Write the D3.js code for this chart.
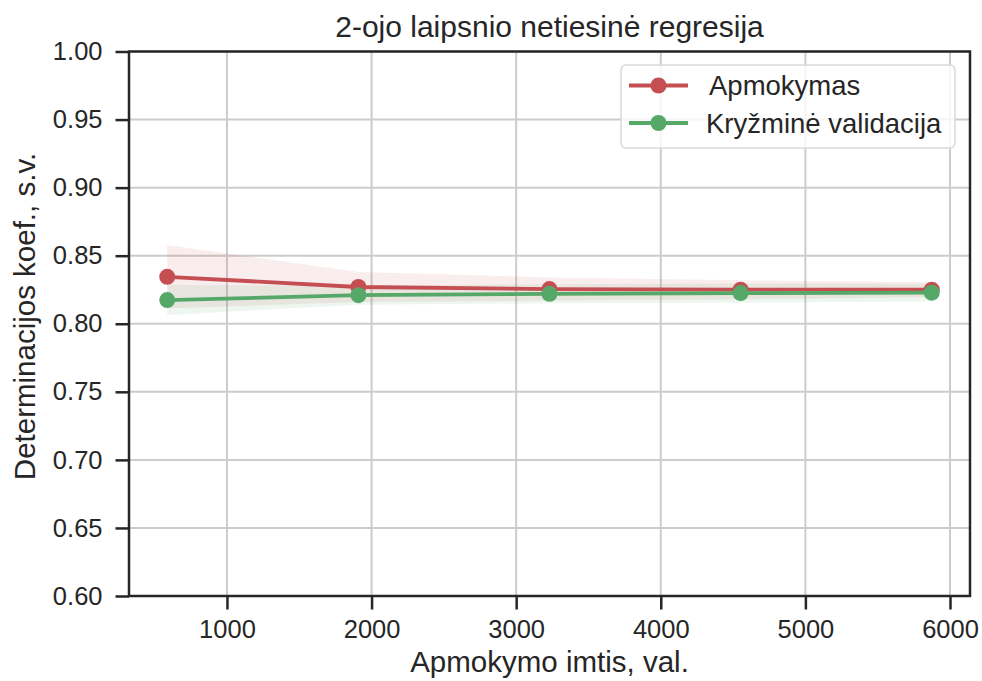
<!DOCTYPE html>
<html>
<head>
<meta charset="utf-8">
<script src="https://cdn.jsdelivr.net/npm/d3@7/dist/d3.min.js"></script>
<style>
  html, body { margin: 0; padding: 0; background: #ffffff; }
  svg { display: block; font-family: "Liberation Sans", Arial, sans-serif; }
</style>
</head>
<body>
<svg id="chart" width="982" height="681"></svg>
<script>
// Learning curve of the 2nd degree polynomial regression
const trainSizes = [587, 1909, 3230, 4552, 5874];
const trainMean = [0.8345, 0.8270, 0.8255, 0.8250, 0.8250];
const trainStd  = [0.0233, 0.0110, 0.0085, 0.0070, 0.0055];
const cvMean    = [0.8174, 0.8210, 0.8220, 0.8225, 0.8228];
const cvStd     = [0.0110, 0.0070, 0.0070, 0.0070, 0.0065];
const yTicks = [0.60, 0.65, 0.70, 0.75, 0.80, 0.85, 0.90, 0.95, 1.00];
const xTicks = [1000, 2000, 3000, 4000, 5000, 6000];
const seriesNames = ["Apmokymas", "Kryžminė validacija"];
const seriesColors = ["#c44e52", "#55a868"];
const titleText = "2-ojo laipsnio netiesinė regresija";
const xLabel = "Apmokymo imtis, val.";
const yLabel = "Determinacijos koef., s.v.";

const svg = d3.select("#chart");
const margin = { left: 129, right: 12, top: 51.5, bottom: 85 };
const W = 982, H = 681;
const iw = W - margin.left - margin.right;
const ih = H - margin.top - margin.bottom;
const textColor = "#262626";

// x range padded by 5% on each side of the data
const span = d3.max(trainSizes) - d3.min(trainSizes);
const x = d3.scaleLinear()
  .domain([d3.min(trainSizes) - 0.05 * span, d3.max(trainSizes) + 0.05 * span])
  .range([margin.left, margin.left + iw]);
const y = d3.scaleLinear().domain([0.6, 1.0]).range([margin.top + ih, margin.top]);

// grid
const grid = svg.append("g");
grid.selectAll("line.gx").data(xTicks).join("line")
  .attr("x1", d => x(d)).attr("x2", d => x(d))
  .attr("y1", margin.top).attr("y2", margin.top + ih)
  .attr("stroke", "#cccccc").attr("stroke-width", 2);
grid.selectAll("line.gy").data(yTicks).join("line")
  .attr("x1", margin.left).attr("x2", margin.left + iw)
  .attr("y1", d => y(d)).attr("y2", d => y(d))
  .attr("stroke", "#cccccc").attr("stroke-width", 2);

const series = [
  { name: seriesNames[0], color: seriesColors[0], mean: trainMean, std: trainStd },
  { name: seriesNames[1], color: seriesColors[1], mean: cvMean, std: cvStd }
];

// standard-deviation bands
const area = d3.area()
  .x(d => x(d.x))
  .y0(d => y(d.m - d.s))
  .y1(d => y(d.m + d.s));
series.forEach(s => {
  const pts = trainSizes.map((v, i) => ({ x: v, m: s.mean[i], s: s.std[i] }));
  svg.append("path").datum(pts)
    .attr("d", area)
    .attr("fill", s.color).attr("fill-opacity", 0.1);
});

// mean lines with markers
const line = d3.line().x(d => x(d.x)).y(d => y(d.m));
series.forEach(s => {
  const pts = trainSizes.map((v, i) => ({ x: v, m: s.mean[i] }));
  svg.append("path").datum(pts)
    .attr("d", line)
    .attr("fill", "none").attr("stroke", s.color).attr("stroke-width", 3.8);
  svg.append("g").selectAll("circle").data(pts).join("circle")
    .attr("cx", d => x(d.x)).attr("cy", d => y(d.m)).attr("r", 8)
    .attr("fill", s.color);
});

// axes
const xAxis = svg.append("g")
  .attr("transform", `translate(0,${margin.top + ih})`)
  .call(d3.axisBottom(x).tickValues(xTicks).tickFormat(d3.format("d")).tickSize(13.5).tickPadding(10.5));
const yAxis = svg.append("g")
  .attr("transform", `translate(${margin.left},0)`)
  .call(d3.axisLeft(y).tickValues(yTicks).tickFormat(d3.format(".2f")).tickSize(13.5).tickPadding(13));
[xAxis, yAxis].forEach(a => {
  a.attr("font-family", null).attr("font-size", null);
  a.select(".domain").remove();
  a.selectAll(".tick line").attr("stroke", textColor).attr("stroke-width", 2.5);
  a.selectAll(".tick text").attr("fill", textColor).style("font-size", "25.5px");
});

// frame
svg.append("rect")
  .attr("x", margin.left).attr("y", margin.top)
  .attr("width", iw).attr("height", ih)
  .attr("fill", "none").attr("stroke", textColor).attr("stroke-width", 2.5);

// title and labels
svg.append("text")
  .attr("x", margin.left + iw / 2).attr("y", 37)
  .attr("text-anchor", "middle").attr("fill", textColor)
  .style("font-size", "30px").text(titleText);
svg.append("text")
  .attr("x", margin.left + iw / 2).attr("y", 672)
  .attr("text-anchor", "middle").attr("fill", textColor)
  .style("font-size", "29.5px").text(xLabel);
svg.append("text")
  .attr("transform", `translate(35,316.5) rotate(-90)`)
  .attr("text-anchor", "middle").attr("fill", textColor)
  .style("font-size", "29.5px").text(yLabel);

// legend
const lg = svg.append("g");
lg.append("rect")
  .attr("x", 621).attr("y", 65).attr("width", 334).attr("height", 83)
  .attr("rx", 5).attr("fill", "#ffffff").attr("fill-opacity", 0.8)
  .attr("stroke", "#d9d9d9").attr("stroke-width", 1.5);
series.forEach((s, i) => {
  const cy = 85.5 + i * 37.5;
  lg.append("line")
    .attr("x1", 629).attr("x2", 688).attr("y1", cy).attr("y2", cy)
    .attr("stroke", s.color).attr("stroke-width", 3.8);
  lg.append("circle").attr("cx", 658.5).attr("cy", cy).attr("r", 8).attr("fill", s.color);
  lg.append("text")
    .attr("x", i === 0 ? 709 : 706).attr("y", cy + 9.5)
    .attr("fill", textColor).style("font-size", "27.5px").text(s.name);
});
</script>
</body>
</html>
